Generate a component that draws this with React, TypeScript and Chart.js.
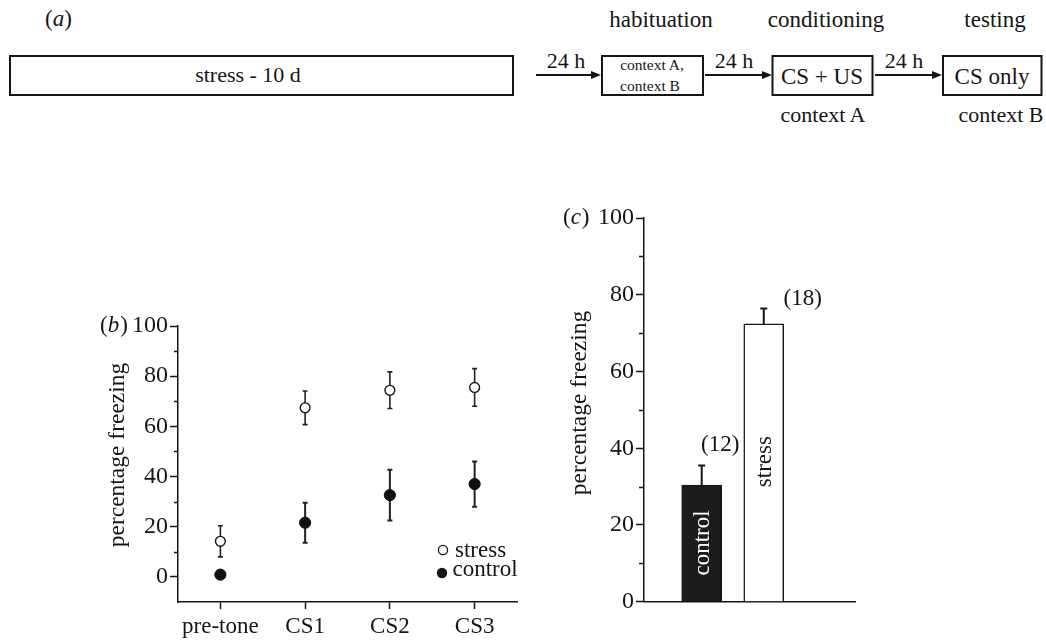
import React, { useEffect, useRef } from 'react';
import { Chart, registerables } from 'chart.js';
Chart.register(...registerables);

// ---------- data ----------
const phases = ['pre-tone', 'CS1', 'CS2', 'CS3'];
const stressMean = [14.2, 67.4, 74.4, 75.5];
const stressErr = [6.2, 6.7, 7.3, 7.5];
const controlMean = [0.9, 21.6, 32.6, 37.0];
const controlErr = [0, 8.0, 10.1, 9.0];

const groups = ['control', 'stress'];
const groupMean = [30.4, 72.4];
const groupErr = [5.1, 4.0];
const groupN = ['(12)', '(18)'];

const yLabelsB = [0, 20, 40, 60, 80, 100];
const yLabelsC = [0, 20, 40, 60, 80, 100];

const FONT = '"Liberation Serif", "DejaVu Serif", serif';
const INK = '#151515';

function drawPanelLabel(ctx: CanvasRenderingContext2D, letter: string, x: number, y: number, size: number) {
  ctx.save();
  ctx.fillStyle = INK;
  ctx.textBaseline = 'middle';
  ctx.textAlign = 'left';
  ctx.font = `${size}px ${FONT}`;
  ctx.fillText('(', x, y);
  let cx = x + ctx.measureText('(').width;
  ctx.font = `italic ${size}px ${FONT}`;
  ctx.fillText(letter, cx, y);
  cx += ctx.measureText(letter).width + 1;
  ctx.font = `${size}px ${FONT}`;
  ctx.fillText(')', cx, y);
  ctx.restore();
}

function drawYTitle(ctx: CanvasRenderingContext2D, text: string, x: number, y: number, size: number) {
  ctx.save();
  ctx.translate(x, y);
  ctx.rotate(-Math.PI / 2);
  ctx.fillStyle = INK;
  ctx.font = `${size}px ${FONT}`;
  ctx.textAlign = 'center';
  ctx.textBaseline = 'middle';
  ctx.fillText(text, 0, 0);
  ctx.restore();
}

function drawMinorTicks(chart: any, len: number) {
  const y = chart.scales.y;
  const ctx = chart.ctx;
  const ax = chart.chartArea.left;
  ctx.save();
  ctx.strokeStyle = INK;
  ctx.lineWidth = 1.5;
  y.ticks.forEach((t: any) => {
    if (t.value % 20 !== 0 && t.value > 0) {
      const py = Math.round(y.getPixelForValue(t.value)) + 0.5;
      ctx.beginPath();
      ctx.moveTo(ax - len, py);
      ctx.lineTo(ax, py);
      ctx.stroke();
    }
  });
  ctx.restore();
}

const errPluginB = {
  id: 'errB',
  beforeDatasetsDraw(chart: any) {
    const ctx = chart.ctx;
    const y = chart.scales.y;
    const errs = [stressErr, controlErr];
    const means = [stressMean, controlMean];
    ctx.save();
    ctx.strokeStyle = '#222';
    chart.data.datasets.forEach((_: any, di: number) => {
      const meta = chart.getDatasetMeta(di);
      ctx.lineWidth = di === 0 ? 1.6 : 2;
      meta.data.forEach((pt: any, i: number) => {
        const e = errs[di][i];
        if (!e) return;
        const x = pt.x;
        const top = y.getPixelForValue(means[di][i] + e);
        const bot = y.getPixelForValue(means[di][i] - e);
        ctx.beginPath();
        ctx.moveTo(x, top);
        ctx.lineTo(x, bot);
        ctx.moveTo(x - 2.5, top);
        ctx.lineTo(x + 2.5, top);
        ctx.moveTo(x - 2.5, bot);
        ctx.lineTo(x + 2.5, bot);
        ctx.stroke();
      });
    });
    ctx.restore();
  },
  afterDraw(chart: any) {
    const ctx = chart.ctx;
    const a = chart.chartArea;
    drawMinorTicks(chart, 4);
    drawYTitle(ctx, 'percentage freezing', 118, 165, 23.5);
    drawPanelLabel(ctx, 'b', 100, a.top, 23);
    // legend
    ctx.save();
    ctx.font = `23px ${FONT}`;
    ctx.textBaseline = 'middle';
    ctx.textAlign = 'left';
    ctx.lineWidth = 1.3;
    ctx.strokeStyle = INK;
    ctx.beginPath();
    ctx.arc(a.right - 74, a.bottom - 52, 4.6, 0, Math.PI * 2);
    ctx.fillStyle = '#fff';
    ctx.fill();
    ctx.stroke();
    ctx.fillStyle = INK;
    ctx.fillText('stress', a.right - 62, a.bottom - 51);
    ctx.beginPath();
    ctx.arc(a.right - 75, a.bottom - 29, 5.2, 0, Math.PI * 2);
    ctx.fill();
    ctx.fillText('control', a.right - 64.5, a.bottom - 32);
    ctx.restore();
  },
};

const pluginC = {
  id: 'extraC',
  afterDatasetsDraw(chart: any) {
    const ctx = chart.ctx;
    const x = chart.scales.x;
    const y = chart.scales.y;
    ctx.save();
    ctx.strokeStyle = INK;
    ctx.lineWidth = 2;
    groupMean.forEach((m, i) => {
      const px = x.getPixelForValue(i);
      const top = y.getPixelForValue(m + groupErr[i]);
      const base = y.getPixelForValue(m);
      ctx.beginPath();
      ctx.moveTo(px, base);
      ctx.lineTo(px, top);
      ctx.moveTo(px - 3.5, top);
      ctx.lineTo(px + 3.5, top);
      ctx.stroke();
    });
    // bar names
    const namePos = [15.3, 36.5];
    const nameCol = ['#ffffff', INK];
    groups.forEach((g, i) => {
      ctx.save();
      ctx.translate(x.getPixelForValue(i) + 1, y.getPixelForValue(namePos[i]));
      ctx.rotate(-Math.PI / 2);
      ctx.font = `23px ${FONT}`;
      ctx.fillStyle = nameCol[i];
      ctx.textAlign = 'center';
      ctx.textBaseline = 'middle';
      ctx.fillText(g, 0, 0);
      ctx.restore();
    });
    // n labels
    const nOff = [18.5, 39];
    const nVal = [40.9, 78.8];
    ctx.font = `23px ${FONT}`;
    ctx.fillStyle = INK;
    ctx.textAlign = 'center';
    ctx.textBaseline = 'middle';
    groupN.forEach((n, i) => {
      ctx.fillText(n, x.getPixelForValue(i) + nOff[i], y.getPixelForValue(nVal[i]));
    });
    ctx.restore();
  },
  afterDraw(chart: any) {
    const ctx = chart.ctx;
    const a = chart.chartArea;
    drawMinorTicks(chart, 5);
    drawYTitle(ctx, 'percentage freezing', 40, 213, 23.5);
    drawPanelLabel(ctx, 'c', 23, a.top, 23);
  },
};

function ChartB() {
  const ref = useRef<HTMLCanvasElement>(null);
  useEffect(() => {
    const chart = new Chart(ref.current!, {
      type: 'line',
      data: {
        labels: phases,
        datasets: [
          {
            label: 'stress',
            data: stressMean,
            showLine: false,
            pointRadius: 4.9,
            pointBackgroundColor: '#ffffff',
            pointBorderColor: INK,
            pointBorderWidth: 1.4,
          },
          {
            label: 'control',
            data: controlMean,
            showLine: false,
            pointRadius: 5.6,
            pointBackgroundColor: '#111111',
            pointBorderColor: '#111111',
            pointBorderWidth: 1,
          },
        ],
      },
      options: {
        animation: false,
        responsive: false,
        layout: { padding: { left: 0, top: 36, right: 43, bottom: 0 } },
        plugins: { legend: { display: false }, tooltip: { enabled: false } },
        scales: {
          x: {
            type: 'category',
            offset: true,
            grid: { display: true, drawOnChartArea: false, tickLength: 7, tickColor: INK, tickWidth: 1.5, offset: false },
            border: { color: INK, width: 1.5 },
            ticks: { color: INK, font: { family: FONT, size: 23 }, padding: 4, maxRotation: 0, autoSkip: false },
            afterFit: (s: any) => { s.height = 42; },
          },
          y: {
            min: -10,
            max: 100,
            grid: {
              display: true,
              drawOnChartArea: false,
              tickLength: 8,
              tickWidth: 1.5,
              tickColor: (c: any) => (c.tick && c.tick.value % 20 === 0 && c.tick.value >= 0 ? INK : 'rgba(0,0,0,0)'),
            },
            border: { color: INK, width: 1.5 },
            ticks: {
              stepSize: 10,
              autoSkip: false,
              color: INK,
              padding: 2,
              font: { family: FONT, size: 24 },
              callback: (v: any) => (yLabelsB.includes(Number(v)) ? String(v) : ''),
            },
            afterFit: (s: any) => { s.width = 178; },
          },
        },
      },
      plugins: [errPluginB],
    } as any);
    return () => chart.destroy();
  }, []);
  return <canvas ref={ref} width={560} height={354} style={{ position: 'absolute', left: 0, top: 290, display: 'block' }} />;
}

function ChartC() {
  const ref = useRef<HTMLCanvasElement>(null);
  useEffect(() => {
    const chart = new Chart(ref.current!, {
      type: 'bar',
      data: {
        datasets: [
          {
            label: 'freezing',
            data: groups.map((_, i) => ({ x: i, y: groupMean[i] })),
            backgroundColor: ['#1c1c1c', '#ffffff'],
            borderColor: INK,
            borderWidth: 1.5,
            barThickness: 40,
          },
        ],
      },
      options: {
        animation: false,
        responsive: false,
        layout: { padding: { left: 0, top: 28, right: 25, bottom: 0 } },
        plugins: { legend: { display: false }, tooltip: { enabled: false } },
        scales: {
          x: {
            type: 'linear',
            offset: false,
            min: -0.93,
            max: 2.47,
            grid: { display: false },
            border: { display: true, color: INK, width: 1.5 },
            ticks: { display: false },
            afterFit: (s: any) => { s.height = 42.3; },
          },
          y: {
            min: 0,
            max: 100,
            grid: {
              display: true,
              drawOnChartArea: false,
              tickLength: 8,
              tickWidth: 1.5,
              tickColor: (c: any) => (c.tick && c.tick.value % 20 === 0 ? INK : 'rgba(0,0,0,0)'),
            },
            border: { color: INK, width: 1.5 },
            ticks: {
              stepSize: 10,
              autoSkip: false,
              color: INK,
              padding: 2,
              font: { family: FONT, size: 24 },
              callback: (v: any) => (yLabelsC.includes(Number(v)) ? String(v) : ''),
            },
            afterFit: (s: any) => { s.width = 104; },
          },
        },
      },
      plugins: [pluginC],
    } as any);
    return () => chart.destroy();
  }, []);
  return <canvas ref={ref} width={340} height={454} style={{ position: 'absolute', left: 540, top: 190, display: 'block' }} />;
}

function Arrow({ x1, x2, y }: { x1: number; x2: number; y: number }) {
  return (
    <g>
      <line x1={x1} y1={y} x2={x2 - 8} y2={y} stroke={INK} strokeWidth={2} />
      <polygon points={`${x2},${y} ${x2 - 10},${y - 4} ${x2 - 10},${y + 4}`} fill={INK} />
    </g>
  );
}

function PanelA() {
  const t = { fontFamily: FONT, fill: INK } as any;
  return (
    <svg width={1046} height={130} style={{ position: 'absolute', left: 0, top: 0 }}>
      <text x={45} y={26} fontSize={23} {...t}>(<tspan fontStyle="italic">a</tspan>)</text>
      <text x={661} y={27} fontSize={23} textAnchor="middle" {...t}>habituation</text>
      <text x={826} y={27} fontSize={23} textAnchor="middle" {...t}>conditioning</text>
      <text x={995} y={27} fontSize={23} textAnchor="middle" {...t}>testing</text>

      <rect x={10} y={56} width={503} height={39} fill="none" stroke={INK} strokeWidth={2} />
      <text x={248} y={82} fontSize={22} textAnchor="middle" {...t}>stress - 10 d</text>

      <Arrow x1={536} x2={601} y={75} />
      <text x={566} y={68} fontSize={22} textAnchor="middle" {...t}>24 h</text>

      <rect x={602} y={56} width={101} height={39} fill="none" stroke={INK} strokeWidth={2} />
      <text x={652} y={70} fontSize={15.5} textAnchor="middle" {...t}>context A,</text>
      <text x={650} y={90.5} fontSize={15.5} textAnchor="middle" {...t}>context B</text>

      <Arrow x1={705} x2={772} y={75} />
      <text x={734} y={68} fontSize={22} textAnchor="middle" {...t}>24 h</text>

      <rect x={772.5} y={56} width={100} height={39} fill="none" stroke={INK} strokeWidth={2} />
      <text x={822} y={83.5} fontSize={23} textAnchor="middle" {...t}>CS + US</text>

      <Arrow x1={875} x2={942} y={75} />
      <text x={904} y={68} fontSize={22} textAnchor="middle" {...t}>24 h</text>

      <rect x={943} y={56} width={98.5} height={39} fill="none" stroke={INK} strokeWidth={2} />
      <text x={992} y={83.5} fontSize={23} textAnchor="middle" {...t}>CS only</text>

      <text x={823} y={121.5} fontSize={22} textAnchor="middle" {...t}>context A</text>
      <text x={1001} y={121.5} fontSize={22} textAnchor="middle" {...t}>context B</text>
    </svg>
  );
}

export default function App() {
  return (
    <div style={{ position: 'absolute', left: 0, top: 0, width: 1046, height: 644, background: '#fff', overflow: 'hidden' }}>
      <PanelA />
      <ChartB />
      <ChartC />
    </div>
  );
}
